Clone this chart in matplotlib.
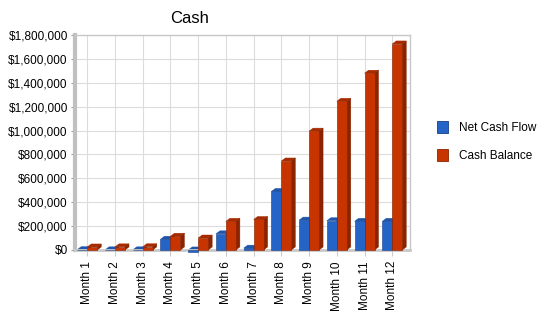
import matplotlib
matplotlib.use("Agg")
import matplotlib.pyplot as plt
from matplotlib.ticker import FuncFormatter, MultipleLocator
from matplotlib.patches import Patch, Polygon
import numpy as np

plt.rcParams['font.family'] = ['Liberation Sans', 'DejaVu Sans']

months = ["Month 1", "Month 2", "Month 3", "Month 4", "Month 5", "Month 6",
          "Month 7", "Month 8", "Month 9", "Month 10", "Month 11", "Month 12"]
net_cash_flow = [3000, 1000, 1000, 90000, -15000, 135000, 15000, 490000,
                 250000, 245000, 240000, 240000]
cash_balance = [25000, 26000, 27000, 115000, 100000, 240000, 255000, 745000,
                995000, 1245000, 1480000, 1725000]

blue = "#2464c6"
blue_top = "#1f55ab"
blue_side = "#173f85"
orange = "#c83400"
orange_top = "#a82b00"
orange_side = "#8a2300"

fig = plt.figure(figsize=(5.5, 3.18), dpi=100)
ax = fig.add_axes([0.136, 0.214, 0.61, 0.676])
ax.set_ylim(0, 1800000)
ax.set_xlim(-0.45, 11.65)

x = np.arange(len(months))
w = 0.36
# depth of the 3D faces, converted from pixels to data units
ppx = 0.61 * 550 / (11.65 + 0.45)
ppy = 0.676 * 318 / 1800000
ddx = 4.0 / ppx
ddy = 3.0 / ppy


def bars3d(xs, vals, face, top, side, z):
    rects = ax.bar(xs, vals, w, color=face, zorder=z + 1, edgecolor=side,
                   linewidth=0.4)
    for r in rects:
        r.set_clip_on(False)
    for xc, v in zip(xs, vals):
        x0, x1 = xc - w / 2, xc + w / 2
        hi = max(v, 0)
        lo = min(v, 0)
        ax.add_patch(Polygon([(x0, hi), (x0 + ddx, hi + ddy), (x1 + ddx, hi + ddy), (x1, hi)],
                             closed=True, facecolor=top, edgecolor=top, linewidth=0.3,
                             zorder=z, clip_on=False))
        ax.add_patch(Polygon([(x1, lo), (x1 + ddx, lo + ddy), (x1 + ddx, hi + ddy), (x1, hi)],
                             closed=True, facecolor=side, edgecolor=side, linewidth=0.3,
                             zorder=z, clip_on=False))


bars3d(x - w / 2, net_cash_flow, blue, blue_top, blue_side, 2)
bars3d(x + w / 2, cash_balance, orange, orange_top, orange_side, 4)

ax.yaxis.set_major_locator(MultipleLocator(200000))
ax.yaxis.set_major_formatter(FuncFormatter(lambda v, p: "${:,.0f}".format(v)))
ax.set_xticks(x)
ax.set_xticklabels(months, rotation=90, fontsize=8.5)
ax.tick_params(axis='y', labelsize=8.5, length=3, color="#999999", pad=2)
ax.tick_params(axis='x', length=4, color="#cccccc", pad=4)

ax.grid(True, color="#dcdcdc", linewidth=0.8, zorder=0)
ax.set_axisbelow(True)
for s in ["top", "right"]:
    ax.spines[s].set_color("#c8c8c8")
    ax.spines[s].set_linewidth(1)
ax.spines["left"].set_color("#c0c0c0")
ax.spines["left"].set_linewidth(3)
ax.spines["bottom"].set_color("#c8c8c8")
ax.spines["bottom"].set_linewidth(2)

fig.text(0.345, 0.965, "Cash", fontsize=12, ha="center", va="top")

handles = [Patch(facecolor=blue, edgecolor=blue_side, linewidth=0.6),
           Patch(facecolor=orange, edgecolor=orange_side, linewidth=0.6)]
fig.legend(handles, ["Net Cash Flow", "Cash Balance"], loc="center left",
           bbox_to_anchor=(0.775, 0.555), frameon=False, fontsize=8.5,
           handlelength=0.9, handleheight=1.2, labelspacing=1.3, handletextpad=1.0)

fig.savefig("out.png", dpi=100)
